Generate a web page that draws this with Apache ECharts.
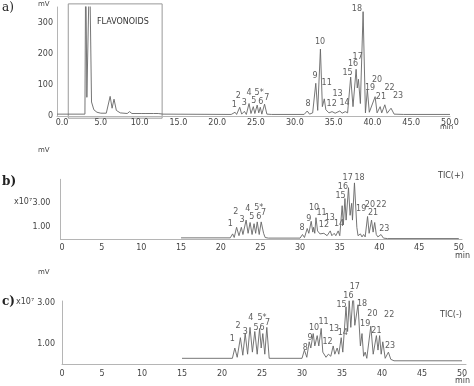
<!DOCTYPE html>
<html><head><meta charset="utf-8">
<script src="https://cdn.jsdelivr.net/npm/echarts@6/dist/echarts.min.js"></script>
<style>html,body{margin:0;padding:0;background:#fff}#c{width:474px;height:386px}</style>
</head><body><div id="c"></div>
<script>
// ---- data ----
const peakNames = ['1','2','3','4','5','5*','6','7','8','9','10','11','12','13','14','15','16','17','18','19','20','21','22','23'];

// a) UV chromatogram, mV vs min
const aTime = [-0.65,2.95,3.05,3.2,3.55,3.8,4.1,4.5,5.0,5.7,6.2,6.45,6.7,7.0,7.5,8.4,8.7,9.0,10.2,10.4,10.7,11.8,12.0,12.4,13,21.8,22.3,22.5,22.9,23.15,23.5,23.75,24.1,24.35,24.65,24.85,25.15,25.35,25.55,25.75,26.1,26.4,27,31.2,31.6,31.9,32.3,32.7,32.95,33.3,33.55,33.8,34.0,34.4,34.8,35.2,35.8,36.1,36.5,36.8,37.2,37.5,37.9,38.05,38.2,38.45,38.8,39.1,39.35,39.6,40.35,40.6,41.0,41.2,41.6,41.9,42.4,42.8,44,50];
const aSignal = [6,6,500,60,500,45,20,12,9,9,63,25,54,18,10,8,14,8,8,13,8,8,10,8,6,5,12,5,28,6,15,5,40,8,30,8,35,10,28,6,38,6,5,5,16,6,10,105,18,215,30,55,20,10,14,9,16,9,14,10,125,30,150,90,118,40,335,10,85,12,62,10,30,10,36,9,25,6,5,5];
const aLabelT = [22.2,22.7,23.5,24.1,24.7,25.4,25.6,26.4,31.7,32.6,33.25,34.1,34.75,35.5,36.4,36.8,37.5,38.1,38.0,39.7,40.6,41.1,42.2,43.3];
const aLabelV = [36,63,41,74,47,74,45,58,39,128,237,106,38,71,41,139,166,191,345,90,117,61,90,63];

// b) TIC(+), x10^7
const bTime = [15,21.2,21.5,21.7,22.0,22.3,22.6,22.8,23.2,23.45,23.7,23.95,24.2,24.4,24.6,24.85,25.1,25.4,25.6,26,30.0,30.3,30.55,30.9,31.1,31.4,31.6,31.7,31.85,32.0,32.2,32.5,33.0,33.4,33.8,34.0,34.3,34.5,34.8,35.0,35.3,35.45,35.65,35.8,36.1,36.3,36.5,36.6,36.85,37.15,37.3,37.6,37.8,38.0,38.2,38.5,38.7,39.0,39.2,39.4,39.6,39.8,40.2,40.5,41,50];
const bSignal = [0.12,0.12,0.45,0.15,1.0,0.3,1.0,0.4,1.6,0.5,1.4,0.4,1.3,0.5,1.45,0.4,1.45,0.5,0.15,0.1,0.1,0.4,0.15,0.9,0.5,1.5,0.6,1.0,0.5,1.8,0.7,0.45,0.5,0.3,0.7,0.3,0.5,0.3,0.7,0.3,2.8,1.2,3.4,1.6,4.3,2.0,3.0,1.6,4.7,1.0,0.3,0.45,0.2,0.4,0.2,1.9,0.5,1.6,0.6,1.4,0.4,0.2,0.4,0.1,0.06,0.06];
const bLabelT = [21.2,21.9,22.7,23.4,23.9,24.8,24.8,25.4,30.25,31.1,31.75,32.7,33.0,33.75,34.9,35.1,35.4,36.0,37.5,37.7,38.8,39.2,40.25,40.6];
const bLabelV = [1.25,2.3,1.6,2.5,1.9,2.6,1.9,2.2,0.97,1.67,2.6,2.2,1.2,1.75,1.3,3.6,4.4,5.1,5.1,2.5,2.9,2.2,2.85,0.86];

// c) TIC(-), x10^7
const cTime = [15,21.3,21.6,21.9,22.3,22.6,22.9,23.2,23.5,23.8,24.1,24.4,24.7,24.9,25.1,25.35,25.6,25.9,30.0,30.3,30.6,30.9,31.1,31.4,31.6,31.9,32.1,32.4,32.6,33.0,33.3,33.6,33.9,34.1,34.4,34.6,34.9,35.1,35.5,35.7,35.9,36.1,36.4,36.6,37.0,37.3,37.5,37.7,37.9,38.1,38.6,38.9,39.3,39.5,39.7,39.9,40.1,40.4,40.8,41.1,41.5,50];
const cSignal = [0.3,0.3,0.8,0.35,1.3,0.45,1.5,0.5,1.8,0.6,1.6,0.5,1.75,0.8,1.5,0.5,1.8,0.3,0.3,0.7,0.35,1.1,0.8,1.5,0.9,1.4,0.9,1.75,0.6,0.35,0.5,0.4,0.9,0.5,0.8,0.5,1.3,0.6,2.8,1.6,3.1,1.8,3.5,1.9,2.9,0.9,1.5,0.4,0.6,0.3,1.86,0.5,1.4,0.7,1.4,0.5,1.1,0.3,0.6,0.25,0.18,0.18];
const cLabelT = [21.3,22.0,22.9,23.6,24.25,25.0,25.0,25.7,30.4,31.0,31.5,32.7,33.2,34.0,35.1,34.95,35.8,36.6,37.5,37.9,38.8,39.3,40.9,41.0];
const cLabelV = [1.22,1.88,1.59,2.24,1.79,2.24,1.79,2.0,0.79,1.30,1.79,2.05,1.08,1.71,1.54,2.89,3.34,3.78,2.92,1.95,2.44,1.64,2.40,0.91];

const aTicks = [0,5,10,15,20,25,30,35,40,45,50];
const aYTicks = [0,100,200,300];
const bcYTicks = [1,3];
const flavBox = {t0:0.8, t1:12.9, v0:-7, v1:360};

// ---- build ----
const zip = (t, v) => t.map((x, i) => [x, v[i]]);
const zipL = (t, v) => t.map((x, i) => [x, v[i], peakNames[i]]);
const FONT = 'DejaVu Sans';
const lineCol = '#666';
const axCol = '#b5b5b5';

function xAx(gi, min, max, fmt, margin) {
  return {gridIndex: gi, type: 'value', min, max,
    axisLine: {show: true, onZero: false, lineStyle: {color: axCol, width: 1}},
    axisTick: {show: false}, splitLine: {show: false},
    axisLabel: {customValues: aTicks, formatter: fmt, fontFamily: FONT, fontSize: 8, color: '#444', margin}};
}
function yAx(gi, min, max, ticks, fmt, margin) {
  return {gridIndex: gi, type: 'value', min, max,
    axisLine: {show: true, onZero: false, lineStyle: {color: axCol, width: 1}},
    axisTick: {show: false}, splitLine: {show: false},
    axisLabel: {customValues: ticks, formatter: fmt, fontFamily: FONT, fontSize: 8, color: '#444', margin}};
}
function lineS(i, data) {
  return {type: 'line', xAxisIndex: i, yAxisIndex: i, data, symbol: 'none', smooth: false,
    lineStyle: {color: lineCol, width: 0.9}, clip: true, silent: true};
}
function labS(i, data, size) {
  return {type: 'scatter', xAxisIndex: i, yAxisIndex: i, data, symbolSize: 0.1, clip: false, silent: true,
    itemStyle: {color: 'rgba(0,0,0,0)'},
    label: {show: true, position: 'inside', formatter: p => p.data[2], fontFamily: FONT, fontSize: size, color: '#333'}};
}

const chart = echarts.init(document.getElementById('c'));
chart.setOption({
  animation: false,
  grid: [
    {left: 57, top: 7, width: 393, height: 109},
    {left: 60.4, top: 179.3, width: 401.6, height: 60},
    {left: 62, top: 301, width: 404, height: 63.5}
  ],
  xAxis: [
    xAx(0, -0.65, 50, v => v.toFixed(1), 3),
    xAx(1, -0.2, 50.4, v => String(v), 5),
    xAx(2, 0, 50.5, v => String(v), 5)
  ],
  yAxis: [
    yAx(0, 0, 350, aYTicks, v => String(v), 4),
    yAx(1, 0, 5, bcYTicks, v => v.toFixed(2), 10),
    yAx(2, 0, 3.08, bcYTicks, v => v.toFixed(2), 7)
  ],
  series: [
    lineS(0, zip(aTime, aSignal)),
    lineS(1, zip(bTime, bSignal)),
    lineS(2, zip(cTime, cSignal)),
    labS(0, zipL(aLabelT, aLabelV), 8),
    labS(1, zipL(bLabelT, bLabelV), 8),
    labS(2, zipL(cLabelT, cLabelV), 8)
  ]
});
const p0 = chart.convertToPixel({gridIndex: 0}, [flavBox.t0, flavBox.v1]);
const p1 = chart.convertToPixel({gridIndex: 0}, [flavBox.t1, flavBox.v0]);
const txt = (id, x, y, s, o) => ({id, type: 'text', x, y, silent: true,
  style: Object.assign({text: s, fontFamily: FONT, fontSize: 8, fill: '#444'}, o || {})});
chart.setOption({graphic: [
  {id: 'box', type: 'rect', silent: true, shape: {x: p0[0], y: p0[1], width: p1[0] - p0[0], height: p1[1] - p0[1]},
    style: {fill: 'none', stroke: '#999', lineWidth: 1}},
  txt('ta', 2, 2, 'a)', {fontFamily: 'DejaVu Serif', fontSize: 12, fill: '#222'}),
  txt('tb', 2, 176, 'b)', {fontFamily: 'DejaVu Serif', fontSize: 12, fill: '#222', fontWeight: 'bold'}),
  txt('tc', 2, 296, 'c)', {fontFamily: 'DejaVu Serif', fontSize: 12, fill: '#222', fontWeight: 'bold'}),
  txt('m1', 38, 1, 'mV', {fontSize: 7}),
  txt('m2', 38, 147, 'mV', {fontSize: 7}),
  txt('m3', 38, 269, 'mV', {fontSize: 7}),
  txt('x1', 14, 198, 'x10⁷', {fontSize: 8}),
  txt('x2', 16, 298, 'x10⁷', {fontSize: 8}),
  txt('t1', 438, 172, 'TIC(+)', {fontSize: 8}),
  txt('t2', 440, 311, 'TIC(-)', {fontSize: 8}),
  txt('n1', 440, 124, 'min', {fontSize: 7}),
  txt('n2', 455, 252, 'min', {fontSize: 8}),
  txt('n3', 455, 377, 'min', {fontSize: 8}),
  txt('fl', 97, 18, 'FLAVONOIDS', {fontSize: 8, fill: '#333'})
]});
</script></body></html>
